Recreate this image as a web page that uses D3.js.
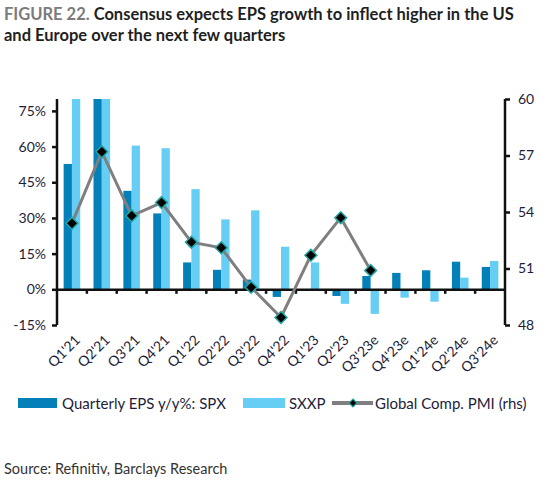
<!DOCTYPE html>
<html lang="en">
<meta charset="utf-8">
<script src="https://cdn.jsdelivr.net/npm/d3@7"></script>
<style>
  body { margin: 0; background: #ffffff; }
  svg text { font-family: Lato, "Noto Sans", sans-serif; }
</style>
<body>
<script>
// chart data
var quarters = ["Q1'21", "Q2'21", "Q3'21", "Q4'21", "Q1'22", "Q2'22", "Q3'22", "Q4'22",
                "Q1'23", "Q2'23", "Q3'23e", "Q4'23e", "Q1'24e", "Q2'24e", "Q3'24e"];
var spx  = [52.7, 88, 41.4, 31.9, 11.3, 8.2, 4.1, -3.2, 0, -2.8, 5.6, 6.9, 8.0, 11.6, 9.4];
var sxxp = [95, 110, 60.4, 59.3, 42.1, 29.4, 33.2, 17.9, 11.3, -6.1, -10.3, -3.5, -5.2, 4.9, 11.9];
var pmi  = [53.4, 57.2, 53.8, 54.5, 52.4, 52.1, 50.0, 48.4, 51.7, 53.7, 50.9];
var leftTicks  = [-15, 0, 15, 30, 45, 60, 75];
var rightTicks = [48, 51, 54, 57, 60];

var W = 549, H = 485;
var plotL = 57, plotR = 505, plotT = 99, plotB = 325;

var svg = d3.select("body").append("svg")
    .attr("width", W)
    .attr("height", H);

// title
var title = svg.append("text").attr("x", 4).attr("y", 20)
    .style("font-size", "16.5px").style("font-weight", "bold");
title.append("tspan").attr("fill", "#7b7b7b").text("FIGURE 22. ");
title.append("tspan").attr("fill", "#1f1f1f").text("Consensus expects EPS growth to inflect higher in the US");
svg.append("text").attr("x", 4).attr("y", 41)
    .style("font-size", "16.5px").style("font-weight", "bold")
    .attr("fill", "#1f1f1f")
    .text("and Europe over the next few quarters");

var x = d3.scaleBand().domain(quarters).range([plotL, plotR]);
var y = d3.scaleLinear().domain([-15, 80]).range([plotB, plotT]);
var y2 = d3.scaleLinear().domain([48, 60]).range([plotB, plotT]);

var groupW = 16.6;
var x1 = d3.scaleBand().domain(["spx", "sxxp"])
    .range([x.bandwidth() / 2 - groupW / 2, x.bandwidth() / 2 + groupW / 2]);

svg.append("clipPath").attr("id", "plot")
    .append("rect").attr("x", plotL).attr("y", plotT)
    .attr("width", plotR - plotL).attr("height", plotB - plotT);

var bars = svg.append("g").attr("clip-path", "url(#plot)");
var series = [{key: "spx", vals: spx, color: "#0280b7"},
              {key: "sxxp", vals: sxxp, color: "#66cdf5"}];
series.forEach(function(s){
    bars.selectAll(".bar-" + s.key)
        .data(s.vals)
        .enter()
        .append("rect")
        .attr("x", function(d, i){ return x(quarters[i]) + x1(s.key); })
        .attr("width", x1.bandwidth())
        .attr("y", function(d){ return y(Math.max(0, d)); })
        .attr("height", function(d){ return Math.abs(y(d) - y(0)); })
        .attr("fill", s.color);
});

// zero line with tick marks at category boundaries
var xAxis = d3.axisBottom(x).tickSize(0).tickFormat("");
svg.append("g")
    .attr("transform", "translate(0," + y(0) + ")")
    .call(xAxis)
    .call(function(g){ g.select(".domain").attr("stroke", "#111").attr("stroke-width", 2.5); });
svg.append("g").selectAll("line")
    .data(quarters.slice(1))
    .enter()
    .append("line")
    .attr("x1", function(d){ return x(d); })
    .attr("x2", function(d){ return x(d); })
    .attr("y1", y(0))
    .attr("y2", y(0) + 4.5)
    .attr("stroke", "#111")
    .attr("stroke-width", 2.5);

// category labels
svg.append("g").selectAll("text")
    .data(quarters)
    .enter()
    .append("text")
    .attr("text-anchor", "end")
    .attr("transform", function(d){
        return "translate(" + (x(d) + x.bandwidth() / 2 + 9) + "," + 341 + ") rotate(-45)";
    })
    .attr("fill", "#1d1d3b")
    .style("font-size", "14px")
    .text(function(d){ return d; });

// left axis
var yAxis = d3.axisLeft(y).tickValues(leftTicks).tickSize(5).tickPadding(6)
    .tickFormat(function(d){ return d + "%"; });
svg.append("g")
    .attr("transform", "translate(" + plotL + ",0)")
    .call(yAxis)
    .call(function(g){
        g.select(".domain").attr("stroke", "#111").attr("stroke-width", 2.5)
            .attr("d", "M0," + plotT + "V" + plotB);
        g.selectAll(".tick line").attr("stroke", "#111").attr("stroke-width", 2.5);
        g.selectAll(".tick text").attr("fill", "#1d1d3b").style("font-size", "14px")
            .style("font-family", "Lato, 'Noto Sans', sans-serif");
    });

// right axis
var yAxis2 = d3.axisRight(y2).tickValues(rightTicks).tickSize(5).tickPadding(8);
svg.append("g")
    .attr("transform", "translate(" + plotR + ",0)")
    .call(yAxis2)
    .call(function(g){
        g.select(".domain").attr("stroke", "#111").attr("stroke-width", 2.5)
            .attr("d", "M0," + plotT + "V" + plotB);
        g.selectAll(".tick line").attr("stroke", "#111").attr("stroke-width", 2.5);
        g.selectAll(".tick text").attr("fill", "#1d1d3b").style("font-size", "14px")
            .style("font-family", "Lato, 'Noto Sans', sans-serif");
    });

// PMI line
var line = d3.line()
    .x(function(d, i){ return x(quarters[i]) + x.bandwidth() / 2; })
    .y(function(d){ return y2(d); });
svg.append("path")
    .attr("d", line(pmi))
    .attr("fill", "none")
    .attr("stroke", "#7f7f7f")
    .attr("stroke-width", 3);

var diamond = d3.symbol().type(d3.symbolDiamond2).size(90);
svg.append("g").selectAll("path")
    .data(pmi)
    .enter()
    .append("path")
    .attr("d", diamond)
    .attr("transform", function(d, i){
        return "translate(" + (x(quarters[i]) + x.bandwidth() / 2) + "," + y2(d) + ")";
    })
    .attr("fill", "#000")
    .attr("stroke", "#20a6a6")
    .attr("stroke-width", 1.5);

// legend
var lg = svg.append("g").style("font-size", "15px").attr("fill", "#1d1d3b");
lg.append("rect").attr("x", 18).attr("y", 398).attr("width", 39).attr("height", 10).attr("fill", "#0280b7");
lg.append("text").attr("x", 62).attr("y", 409).text("Quarterly EPS y/y%: SPX");
lg.append("rect").attr("x", 243).attr("y", 398).attr("width", 42).attr("height", 10).attr("fill", "#66cdf5");
lg.append("text").attr("x", 289).attr("y", 409).text("SXXP");
lg.append("line").attr("x1", 332).attr("x2", 373).attr("y1", 403).attr("y2", 403)
    .attr("stroke", "#7f7f7f").attr("stroke-width", 4);
lg.append("path").attr("d", d3.symbol().type(d3.symbolDiamond2).size(40))
    .attr("transform", "translate(353,403)")
    .attr("fill", "#000").attr("stroke", "#20a6a6").attr("stroke-width", 1.2);
lg.append("text").attr("x", 375).attr("y", 409).text("Global Comp. PMI (rhs)");

// source
svg.append("text").attr("x", 4).attr("y", 474)
    .style("font-size", "14.5px").attr("fill", "#333")
    .text("Source: Refinitiv, Barclays Research");
</script>
</body>
</html>
